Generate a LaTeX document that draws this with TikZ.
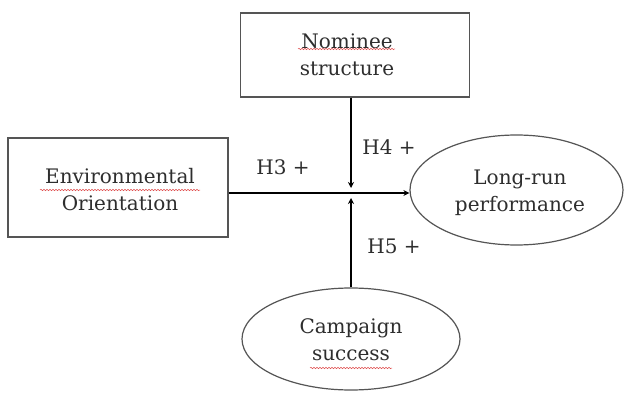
\documentclass[tikz,border=0pt]{standalone}
\usepackage{fontspec}
\setmainfont{DejaVu Serif}
\usetikzlibrary{arrows.meta,shapes.geometric,decorations.pathmorphing}
\definecolor{edgegray}{HTML}{555555}
\definecolor{textgray}{HTML}{2E2E2E}
\definecolor{spellred}{HTML}{E05050}
\tikzset{
  varbox/.style={draw=edgegray,line width=1.2pt,rectangle,inner sep=0pt},
  varoval/.style={draw=edgegray,line width=1.2pt,ellipse,inner sep=0pt},
  vartext/.style={align=center,text=textgray,font=\fontsize{20}{27}\selectfont},
  hyplabel/.style={text=textgray,font=\fontsize{20}{27}\selectfont},
  effect/.style={line width=1.4pt,-{Stealth[length=6pt,width=6pt]}},
  squiggle/.style={spellred,line width=0.5pt,decorate,decoration={snake,amplitude=0.7pt,segment length=3pt}}
}
\begin{document}
\begin{tikzpicture}[x=1pt,y=-1pt]
  \useasboundingbox (0,0) rectangle (624,393);
  \fill[white] (0,0) rectangle (624,393);
  % variables
  \node[varbox,minimum width=229pt,minimum height=84pt] (nom) at (355,55) {};
  \node[vartext] (nomtext) at (347,55) {Nominee\\structure};
  \node[varbox,minimum width=220pt,minimum height=99pt] (env) at (118,187.5) {};
  \node[vartext] (envtext) at (120,190) {Environmental\\Orientation};
  \node[varoval,minimum width=213pt,minimum height=110pt] (lr) at (516.5,190) {};
  \node[vartext] (lrtext) at (520,193) {Long-run\\performance};
  \node[varoval,minimum width=218pt,minimum height=102pt] (camp) at (351,339) {};
  \node[vartext] (camptext) at (351,340) {Campaign\\success};
  % effects
  \coordinate (join) at (351,193);
  \coordinate (hitdown) at (351,188);
  \coordinate (hitup) at (351,198);
  \draw[effect] (env.east |- join) -- (lr.west |- join);
  \draw[effect] (nom.south -| join) -- (hitdown);
  \draw[effect] (camp.north -| join) -- (hitup);
  % hypotheses
  \node[hyplabel] (h3) at (283,167) {H3 +};
  \node[hyplabel] (h4) at (389,147) {H4 +};
  \node[hyplabel] (h5) at (394,246) {H5 +};
  % spell-check marks
  \draw[squiggle] (298,49) -- (395,49);
  \draw[squiggle] (40,190) -- (200,190);
  \draw[squiggle] (310,368) -- (392,368);
\end{tikzpicture}
\end{document}
